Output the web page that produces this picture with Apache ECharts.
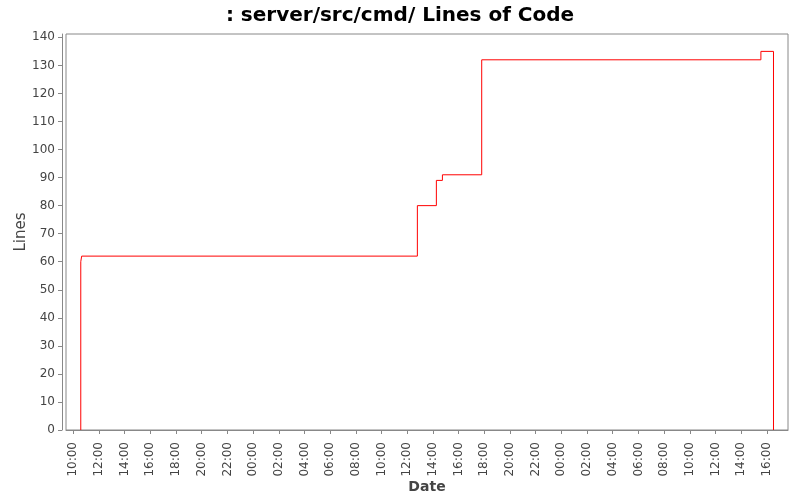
<!DOCTYPE html>
<html>
<head>
<meta charset="utf-8">
<script src="https://cdn.jsdelivr.net/npm/echarts@6/dist/echarts.min.js"></script>
<style>html,body{margin:0;padding:0;background:#fff}#c{width:800px;height:500px}</style>
</head>
<body>
<div id="c"></div>
<script>
// hours counted from 00:00 of the first day
const times  = [10.58, 10.58, 10.65, 36.79, 38.27, 38.74, 41.80, 63.54, 64.52];
const values = [0,     60,    62,    80,    89,    91,    132,   135,   0];
const tickHours  = [10,12,14,16,18,20,22,24,26,28,30,32,34,36,38,40,42,44,46,48,50,52,54,56,58,60,62,64];
const tickLabels = ['10:00','12:00','14:00','16:00','18:00','20:00','22:00','00:00','02:00','04:00','06:00','08:00','10:00','12:00','14:00','16:00','18:00','20:00','22:00','00:00','02:00','04:00','06:00','08:00','10:00','12:00','14:00','16:00'];
const yTicks = [0,10,20,30,40,50,60,70,80,90,100,110,120,130,140];

const font = 'DejaVu Sans';
const chart = echarts.init(document.getElementById('c'), null, {renderer:'canvas'});
chart.setOption({
  animation: false,
  backgroundColor: '#ffffff',
  title: {
    text: ': server/src/cmd/ Lines of Code',
    left: 'center', top: 1,
    textStyle: {fontFamily: font, fontWeight: 'bold', fontSize: 20, color: '#000'}
  },
  grid: {left: 66, right: 12, top: 34, bottom: 70, show: true, borderColor: '#888', borderWidth: 1, backgroundColor: '#fff', outerBoundsMode: 'none', containLabel: false},
  xAxis: {
    type: 'value',
    min: 9.43, max: 65.65,
    offset: 3,
    name: 'Date', nameLocation: 'middle', nameGap: 47, nameMoveOverlap: false,
    nameTextStyle: {fontFamily: font, fontSize: 14, color: '#444', fontWeight: 'bold'},
    axisLine: {show: true, lineStyle: {color: '#888'}},
    axisTick: {show: true, length: 4, lineStyle: {color: '#888'}, customValues: tickHours},
    splitLine: {show: false},
    axisLabel: {
      customValues: tickHours,
      rotate: 90, margin: 9,
      fontFamily: font, fontSize: 12, color: '#444',
      formatter: v => tickLabels[tickHours.indexOf(Math.round(v))]
    }
  },
  yAxis: {
    type: 'value',
    min: 0, max: 141.2,
    offset: 4,
    name: 'Lines', nameLocation: 'middle', nameGap: 33, nameMoveOverlap: false,
    nameTextStyle: {fontFamily: font, fontSize: 15, color: '#444', fontWeight: 'normal'},
    axisLine: {show: true, lineStyle: {color: '#888'}},
    axisTick: {show: true, length: 4, lineStyle: {color: '#888'}, customValues: yTicks},
    splitLine: {show: false},
    axisLabel: {customValues: yTicks, margin: 7, fontFamily: font, fontSize: 12, color: '#444'}
  },
  series: [{
    type: 'line',
    step: 'end',
    data: times.map((t, i) => [t, values[i]]),
    showSymbol: false,
    lineStyle: {color: '#ff0000', width: 1},
    itemStyle: {color: '#ff0000'}
  }]
});
</script>
</body>
</html>
